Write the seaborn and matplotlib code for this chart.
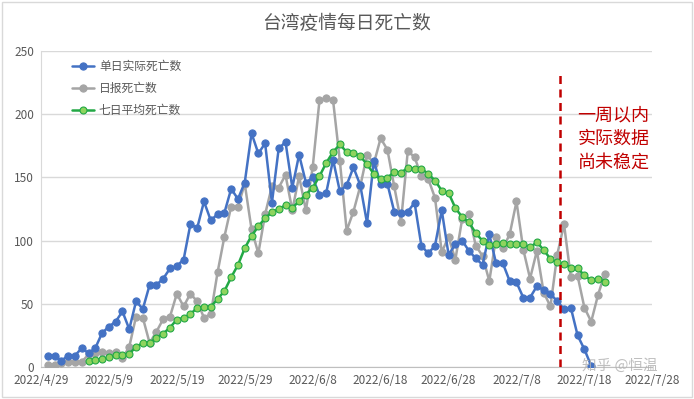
import matplotlib
matplotlib.use("Agg")
import pandas as pd
import numpy as np
import matplotlib.pyplot as plt
import matplotlib.dates as mdates
from matplotlib.patches import Rectangle
import seaborn as sns

sns.set_style("white")
plt.rcParams['font.family'] = ['Noto Sans CJK SC', 'DejaVu Sans']

# -----------------------------
# Data
# -----------------------------
start_date = "2022-04-30"

actual_deaths = [9, 9, 5, 9, 9, 15, 11, 15, 27, 32, 36, 44, 30, 52, 46, 65, 65, 70, 78, 80,
                 85, 113, 110, 131, 116, 121, 122, 141, 133, 146, 185, 169, 177, 130, 173, 178, 142, 168, 146, 150,
                 136, 138, 164, 139, 144, 158, 144, 114, 163, 145, 145, 123, 122, 123, 130, 96, 90, 96, 124, 89,
                 97, 100, 92, 86, 81, 105, 82, 82, 68, 67, 55, 55, 64, 61, 58, 52, 46, 47, 25, 14,
                 1]

reported_deaths = [2, 2, 3, 4, 4, 4, 10, 11, 12, 11, 12, 7, 16, 40, 39, 19, 28, 38, 40, 58,
                   48, 58, 52, 39, 42, 75, 103, 127, 127, 145, 109, 90, 121, 143, 142, 152, 124, 151, 124, 158,
                   211, 213, 211, 163, 108, 123, 143, 168, 161, 181, 172, 143, 115, 171, 166, 151, 149, 134, 91, 103,
                   85, 117, 121, 96, 88, 68, 103, 94, 105, 131, 93, 70, 92, 59, 48, 89, 113, 71, 72, 47,
                   36, 57, 74]

avg7_deaths = [4.5, 5.3, 6.6, 7.7, 9.3, 9.6, 10.6, 15.9, 19.1, 19.1, 23.0, 26.5, 31.3, 37.6,
               39.0, 41.9, 46.9, 47.7, 47.7, 53.8, 60.1, 71.0, 80.8, 94.0, 103.9, 111.3, 117.9, 122.4,
               125.1, 128.0, 126.0, 131.2, 136.5, 141.8, 151.0, 161.6, 170.1, 176.2, 170.1, 169.6, 166.9, 160.3,
               152.9, 148.4, 149.7, 154.5, 153.7, 157.7, 156.9, 156.9, 152.9, 147.6, 139.6, 137.8, 125.9, 118.7,
               114.5, 106.0, 99.9, 96.7, 97.0, 98.0, 97.3, 97.5, 97.0, 94.8, 98.7, 92.7, 85.5, 83.0,
               81.6, 78.6, 78.2, 72.5, 68.5, 70.0, 67.2]

dates = pd.date_range(start_date, periods=len(reported_deaths))
avg_offset = len(reported_deaths) - len(avg7_deaths)

df_actual = pd.DataFrame({"date": dates[:len(actual_deaths)], "deaths": actual_deaths})
df_reported = pd.DataFrame({"date": dates, "deaths": reported_deaths})
df_avg = pd.DataFrame({"date": dates[avg_offset:], "deaths": avg7_deaths})

blue = "#4472C4"
gray = "#A5A5A5"
green = "#22A845"
green_face = "#8ED45E"

# -----------------------------
# Plot
# -----------------------------
fig = plt.figure(figsize=(6.94, 3.99), dpi=100)
ax = fig.add_axes([0.059, 0.080, 0.881, 0.792])

sns.lineplot(data=df_reported, x="date", y="deaths", ax=ax, color=gray, linewidth=1.8,
             marker="o", markersize=5.2, markeredgecolor=gray, label="日报死亡数", zorder=3)
sns.lineplot(data=df_actual, x="date", y="deaths", ax=ax, color=blue, linewidth=1.8,
             marker="o", markersize=5.2, markeredgecolor=blue, label="单日实际死亡数", zorder=4)
sns.lineplot(data=df_avg, x="date", y="deaths", ax=ax, color=green, linewidth=1.8,
             marker="o", markersize=5, markerfacecolor=green_face, markeredgecolor=green,
             markeredgewidth=0.8, label="七日平均死亡数", zorder=5)

# dashed "not yet stable" marker
cut_date = pd.Timestamp("2022-07-14 08:00")
ax.plot([cut_date, cut_date], [0, 234], color="#C00000", linestyle=(0, (3.2, 2.2)),
        linewidth=1.8, zorder=6)
ax.text(0.884, 0.652, "一周以内\n实际数据\n尚未稳定", transform=fig.transFigure, ha="center", va="center",
        fontsize=13, color="#C00000", linespacing=1.4)

# axes
x_start = pd.Timestamp("2022-04-29")
x_end = pd.Timestamp("2022-07-28")
ax.set_xlim(x_start, x_end)
ax.set_ylim(0, 250)
ax.set_yticks(range(0, 251, 50))
ax.set_xticks(pd.date_range(x_start, x_end, freq="10D"))
ax.xaxis.set_major_formatter(plt.FuncFormatter(
    lambda v, pos: (lambda d: f"{d.year}/{d.month}/{d.day}")(mdates.num2date(v))))
ax.tick_params(axis="both", length=0, labelsize=8.5, labelcolor="#595959", pad=5)
ax.set_xlabel("")
ax.set_ylabel("")
ax.grid(axis="y", color="#D9D9D9", linewidth=1)
ax.set_axisbelow(True)
for side in ["top", "right"]:
    ax.spines[side].set_visible(False)
ax.spines["left"].set_color("#D9D9D9")
ax.spines["bottom"].set_color("#BFBFBF")

ax.set_title("台湾疫情每日死亡数", fontsize=13.5, color="#595959", pad=16)

# legend in the order blue, gray, green
handles, labels = ax.get_legend_handles_labels()
order = [labels.index(l) for l in ["单日实际死亡数", "日报死亡数", "七日平均死亡数"]]
ax.legend([handles[i] for i in order], [labels[i] for i in order], loc="upper left",
          bbox_to_anchor=(0.033, 1.005), frameon=False, fontsize=8.5, labelcolor="#595959",
          handlelength=1.9, handletextpad=0.4, labelspacing=0.75)

# watermark
fig.text(0.893, 0.085, "知乎 @恒温", fontsize=10.5, color="#B0B0B0", alpha=0.8,
         ha="center", va="center")

# chart border
fig.patches.append(Rectangle((0.003, 0.005), 0.994, 0.99, transform=fig.transFigure,
                             fill=False, edgecolor="#D9D9D9", linewidth=1))

plt.savefig("out.png", dpi=100)
